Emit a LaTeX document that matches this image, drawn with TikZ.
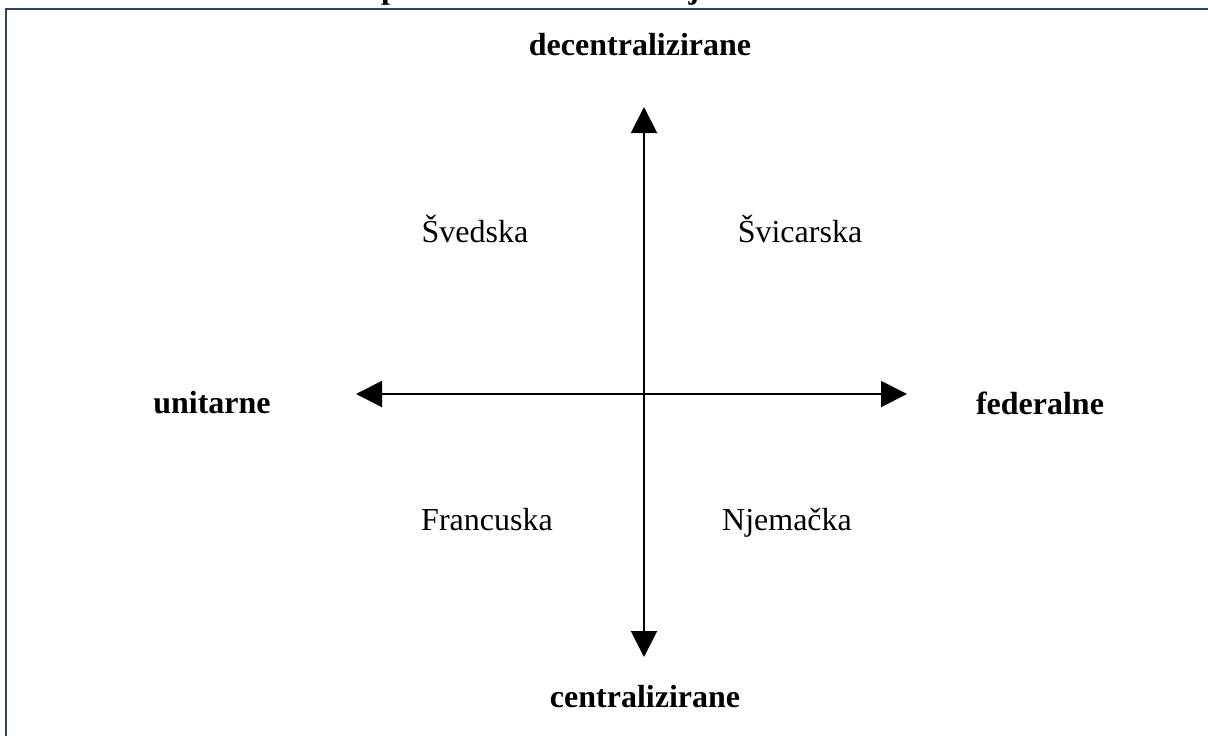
\documentclass[tikz,border=0pt]{standalone}
\usepackage{fontspec}
\setmainfont{Liberation Serif}
\usetikzlibrary{arrows.meta}
\definecolor{framecol}{HTML}{2B4568}
\tikzset{
  axis/.style={line width=1.5pt, {Triangle[length=19.5pt,width=19.5pt]}-{Triangle[length=19.5pt,width=19.5pt]}},
  pole/.style={font=\fontsize{24}{28}\selectfont\bfseries, inner sep=0pt},
  country/.style={font=\fontsize{24}{28}\selectfont, inner sep=0pt, anchor=base},
  frameline/.style={draw=framecol, line width=1.6pt}
}
\begin{document}
\begin{tikzpicture}[x=0.75pt,y=-0.75pt]
\useasboundingbox (0,0) rectangle (1208,736);
\fill[white] (0,0) rectangle (1208,736);
% frame (top and left edges)
\coordinate (fTL) at (6,9);
\coordinate (fTR) at (1212,9);
\coordinate (fBL) at (6,740);
\draw[frameline] (fTR) -- (fTL) -- (fBL);
% cut-off title fragments
\node[pole, anchor=base] (t1) at (390,-2) {p};
\node[pole, anchor=base] (t2) at (694,-2) {j};
% axes
\coordinate (top) at (644,107);
\coordinate (bot) at (644,657);
\coordinate (lft) at (356,394);
\coordinate (rgt) at (907,394);
\draw[axis] (bot) -- (top);
\draw[axis] (lft) -- (rgt);
% pole labels
\node[pole] (dec) at (640,45) {decentralizirane};
\node[pole] (cen) at (645,697) {centralizirane};
\node[pole] (uni) at (212,403) {unitarne};
\node[pole] (fed) at (1040,403) {federalne};
% countries
\node[country] (swe) at (475,242) {Švedska};
\node[country] (sui) at (800,242) {Švicarska};
\node[country] (fra) at (487,530) {Francuska};
\node[country] (ger) at (787,530) {Njemačka};
\end{tikzpicture}
\end{document}
